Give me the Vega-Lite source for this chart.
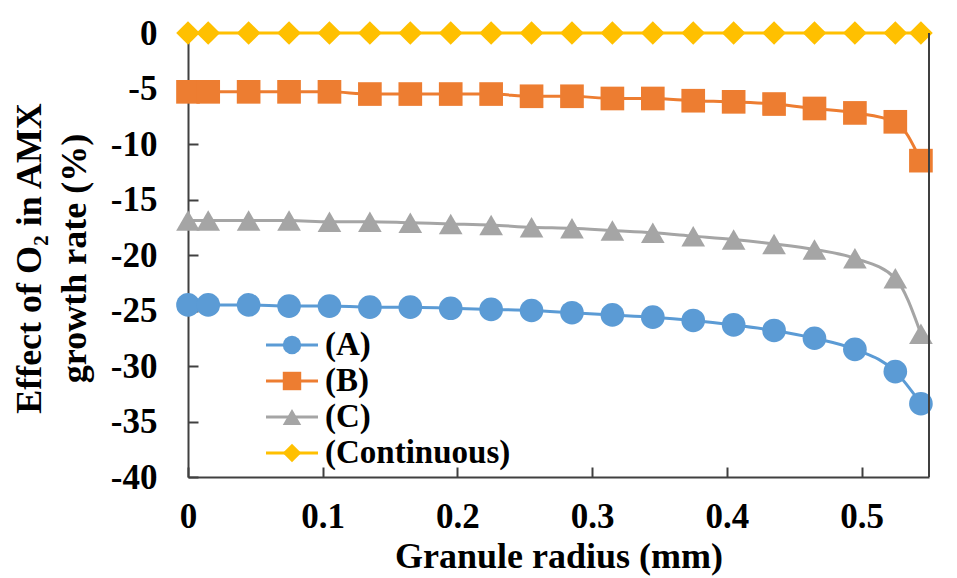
{
  "$schema": "https://vega.github.io/schema/vega-lite/v6.json",
  "width": 741,
  "height": 444,
  "autosize": {"type": "none"},
  "padding": {"left": 188, "top": 33, "right": 28, "bottom": 101},
  "background": "white",
  "config": {"view": {"stroke": null}, "font": "Liberation Serif"},
  "datasets": {"pts": [
    {"r": 0, "s": "(A)", "v": -24.5}, {"r": 0.015, "s": "(A)", "v": -24.5}, {"r": 0.045, "s": "(A)", "v": -24.5}, {"r": 0.075, "s": "(A)", "v": -24.6}, {"r": 0.105, "s": "(A)", "v": -24.6},
    {"r": 0.135, "s": "(A)", "v": -24.7}, {"r": 0.165, "s": "(A)", "v": -24.7}, {"r": 0.195, "s": "(A)", "v": -24.8}, {"r": 0.225, "s": "(A)", "v": -24.9}, {"r": 0.255, "s": "(A)", "v": -25.0},
    {"r": 0.285, "s": "(A)", "v": -25.2}, {"r": 0.315, "s": "(A)", "v": -25.4}, {"r": 0.345, "s": "(A)", "v": -25.6}, {"r": 0.375, "s": "(A)", "v": -25.9}, {"r": 0.405, "s": "(A)", "v": -26.3},
    {"r": 0.435, "s": "(A)", "v": -26.8}, {"r": 0.465, "s": "(A)", "v": -27.5}, {"r": 0.495, "s": "(A)", "v": -28.5}, {"r": 0.525, "s": "(A)", "v": -30.5}, {"r": 0.544, "s": "(A)", "v": -33.4},
    {"r": 0, "s": "(B)", "v": -5.3}, {"r": 0.015, "s": "(B)", "v": -5.3}, {"r": 0.045, "s": "(B)", "v": -5.3}, {"r": 0.075, "s": "(B)", "v": -5.3}, {"r": 0.105, "s": "(B)", "v": -5.3},
    {"r": 0.135, "s": "(B)", "v": -5.5}, {"r": 0.165, "s": "(B)", "v": -5.5}, {"r": 0.195, "s": "(B)", "v": -5.5}, {"r": 0.225, "s": "(B)", "v": -5.5}, {"r": 0.255, "s": "(B)", "v": -5.7},
    {"r": 0.285, "s": "(B)", "v": -5.7}, {"r": 0.315, "s": "(B)", "v": -5.9}, {"r": 0.345, "s": "(B)", "v": -5.9}, {"r": 0.375, "s": "(B)", "v": -6.1}, {"r": 0.405, "s": "(B)", "v": -6.2},
    {"r": 0.435, "s": "(B)", "v": -6.4}, {"r": 0.465, "s": "(B)", "v": -6.8}, {"r": 0.495, "s": "(B)", "v": -7.2}, {"r": 0.525, "s": "(B)", "v": -8.0}, {"r": 0.544, "s": "(B)", "v": -11.5},
    {"r": 0, "s": "(C)", "v": -16.9}, {"r": 0.015, "s": "(C)", "v": -16.9}, {"r": 0.045, "s": "(C)", "v": -16.9}, {"r": 0.075, "s": "(C)", "v": -16.9}, {"r": 0.105, "s": "(C)", "v": -17.0},
    {"r": 0.135, "s": "(C)", "v": -17.0}, {"r": 0.165, "s": "(C)", "v": -17.1}, {"r": 0.195, "s": "(C)", "v": -17.2}, {"r": 0.225, "s": "(C)", "v": -17.3}, {"r": 0.255, "s": "(C)", "v": -17.5},
    {"r": 0.285, "s": "(C)", "v": -17.6}, {"r": 0.315, "s": "(C)", "v": -17.8}, {"r": 0.345, "s": "(C)", "v": -18.0}, {"r": 0.375, "s": "(C)", "v": -18.3}, {"r": 0.405, "s": "(C)", "v": -18.6},
    {"r": 0.435, "s": "(C)", "v": -19.0}, {"r": 0.465, "s": "(C)", "v": -19.5}, {"r": 0.495, "s": "(C)", "v": -20.3}, {"r": 0.525, "s": "(C)", "v": -22.1}, {"r": 0.544, "s": "(C)", "v": -27.1},
    {"r": 0, "s": "(Continuous)", "v": 0}, {"r": 0.015, "s": "(Continuous)", "v": 0}, {"r": 0.045, "s": "(Continuous)", "v": 0}, {"r": 0.075, "s": "(Continuous)", "v": 0}, {"r": 0.105, "s": "(Continuous)", "v": 0},
    {"r": 0.135, "s": "(Continuous)", "v": 0}, {"r": 0.165, "s": "(Continuous)", "v": 0}, {"r": 0.195, "s": "(Continuous)", "v": 0}, {"r": 0.225, "s": "(Continuous)", "v": 0}, {"r": 0.255, "s": "(Continuous)", "v": 0},
    {"r": 0.285, "s": "(Continuous)", "v": 0}, {"r": 0.315, "s": "(Continuous)", "v": 0}, {"r": 0.345, "s": "(Continuous)", "v": 0}, {"r": 0.375, "s": "(Continuous)", "v": 0}, {"r": 0.405, "s": "(Continuous)", "v": 0},
    {"r": 0.435, "s": "(Continuous)", "v": 0}, {"r": 0.465, "s": "(Continuous)", "v": 0}, {"r": 0.495, "s": "(Continuous)", "v": 0}, {"r": 0.525, "s": "(Continuous)", "v": 0}, {"r": 0.544, "s": "(Continuous)", "v": 0}
  ], "edge": [{"r": 0.55}]},
  "layer": [
    {"data": {"name": "pts"},
     "mark": {"type": "line", "strokeWidth": 3, "interpolate": "monotone"},
     "encoding": {
       "x": {"field": "r", "type": "quantitative",
         "scale": {"domain": [0, 0.55], "nice": false, "zero": false},
         "axis": {"values": [0, 0.1, 0.2, 0.3, 0.4, 0.5], "labelExpr": "datum.value == 0 ? '0' : format(datum.value, '.1f')",
           "title": "Granule radius (mm)", "grid": false, "domainColor": "#404040", "domainWidth": 2, "labelFlush": false,
           "tickColor": "#404040", "tickWidth": 2, "tickSize": -10, "labelPadding": 32,
           "labelFont": "Liberation Serif", "labelFontWeight": "bold", "labelFontSize": 35, "labelColor": "black",
           "titleFont": "Liberation Serif", "titleFontWeight": "bold", "titleFontSize": 36, "titleColor": "black", "titleBaseline": "top", "titleY": 62}},
       "y": {"field": "v", "type": "quantitative",
         "scale": {"domain": [-40, 0], "nice": false},
         "axis": {"values": [-40, -35, -30, -25, -20, -15, -10, -5, 0], "labelExpr": "'' + datum.value",
           "title": ["Effect of O₂ in AMX", "growth rate (%)"], "grid": false, "domainColor": "#404040", "domainWidth": 2, "labelFlush": false,
           "tickColor": "#404040", "tickWidth": 2, "tickSize": -10, "labelPadding": 41,
           "labelFont": "Liberation Serif", "labelFontWeight": "bold", "labelFontSize": 35, "labelColor": "black",
           "titleFont": "Liberation Serif", "titleFontWeight": "bold", "titleFontSize": 36, "titleColor": "black",
           "titleAngle": 270, "titleBaseline": "middle", "titleLineHeight": 45, "titleX": -159, "titleY": 225}},
       "stroke": {"field": "s", "type": "nominal",
         "scale": {"domain": ["(A)", "(B)", "(C)", "(Continuous)"], "range": ["#5B9BD5", "#ED7D31", "#A5A5A5", "#FFC000"]},
         "legend": {"title": null, "orient": "none", "legendX": 87.5, "legendY": 295.5, "padding": 0,
           "symbolType": "M-2,0H2", "symbolSize": 676, "symbolStrokeWidth": 3, "rowPadding": 2, "labelOffset": 16.5,
           "labelFont": "Liberation Serif", "labelFontWeight": "bold", "labelFontSize": 33, "labelColor": "black", "labelLimit": 400}}
     }},
    {"data": {"name": "pts"},
     "mark": {"type": "point", "filled": true, "opacity": 1, "size": 560},
     "encoding": {
       "x": {"field": "r", "type": "quantitative"},
       "y": {"field": "v", "type": "quantitative"},
       "color": {"field": "s", "type": "nominal",
         "scale": {"range": ["#5B9BD5", "#ED7D31", "#A5A5A5", "#FFC000"]},
         "legend": {"title": null, "orient": "none", "legendX": 87.5, "legendY": 295.5, "padding": 0,
           "symbolSize": 340, "rowPadding": 2, "labelOffset": 16.5, "labelOpacity": 0,
           "labelFont": "Liberation Serif", "labelFontWeight": "bold", "labelFontSize": 33, "labelLimit": 400}},
       "shape": {"field": "s", "type": "nominal",
         "scale": {"range": ["circle", "square", "triangle-up", "diamond"]},
         "legend": {"title": null, "orient": "none", "legendX": 87.5, "legendY": 295.5, "padding": 0,
           "symbolSize": 340, "rowPadding": 2, "labelOffset": 16.5, "labelOpacity": 0,
           "labelFont": "Liberation Serif", "labelFontWeight": "bold", "labelFontSize": 33, "labelLimit": 400}}
     }},
    {"data": {"name": "edge"},
     "mark": {"type": "rule", "color": "#404040", "strokeWidth": 2},
     "encoding": {"x": {"field": "r", "type": "quantitative"}}}
  ]
}
